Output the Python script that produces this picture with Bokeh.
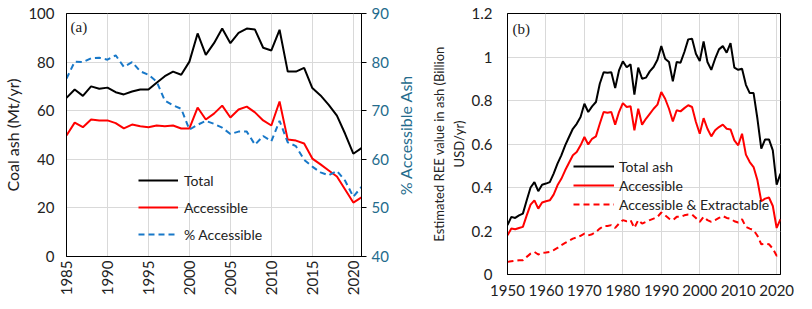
import numpy as np
from bokeh.plotting import figure
from bokeh.layouts import row
from bokeh.models import Range1d, LinearAxis, Legend, LegendItem, FixedTicker, Label
from bokeh.embed import file_html
from bokeh.resources import INLINE

# ---------------- Panel (a) data ----------------
years_a = list(range(1985, 2022))
total_a = [65.3, 68.7, 66.1, 70.0, 69.0, 69.5, 67.6, 66.7, 67.9, 68.7, 68.7, 71.5, 74.2, 76.1, 74.8,
           80.2, 91.8, 83.0, 87.8, 93.8, 87.8, 92.0, 93.8, 93.4, 85.9, 84.8, 93.3, 76.1, 76.1, 77.6,
           69.3, 66.3, 62.4, 58.0, 50.5, 42.3, 44.6]
access_a = [49.8, 55.1, 53.2, 56.4, 56.0, 56.0, 54.9, 52.7, 54.3, 53.6, 53.2, 53.9, 53.6, 53.9, 52.7,
            52.7, 61.3, 56.4, 58.8, 62.1, 57.2, 60.5, 61.7, 59.3, 56.0, 53.9, 63.8, 48.1, 47.7, 46.5,
            40.3, 37.9, 35.4, 32.9, 27.6, 22.2, 24.3]
pct_a = [76.6, 80.1, 80.0, 80.8, 80.9, 80.5, 81.4, 79.0, 80.0, 78.1, 77.4, 76.0, 72.1, 71.1, 70.4,
         66.1, 67.1, 67.9, 67.3, 66.5, 65.2, 65.7, 65.7, 63.0, 64.8, 63.7, 67.9, 63.5, 62.7, 59.9,
         58.5, 57.3, 56.7, 57.6, 55.6, 52.3, 54.3]
xticks_a = [1985, 1990, 1995, 2000, 2005, 2010, 2015, 2020]
yticks_a = [0, 20, 40, 60, 80, 100]
yticks_a2 = [40, 50, 60, 70, 80, 90]

# ---------------- Panel (b) data ----------------
years_b = list(range(1950, 2022))
total_b = [0.227, 0.265, 0.260, 0.272, 0.280, 0.341, 0.400, 0.425, 0.383, 0.413,
           0.418, 0.425, 0.464, 0.510, 0.548, 0.594, 0.632, 0.670, 0.693, 0.724,
           0.785, 0.747, 0.773, 0.793, 0.877, 0.930, 0.928, 0.930, 0.857, 0.938,
           0.980, 0.953, 0.966, 0.827, 0.951, 0.900, 0.905, 0.934, 0.954, 0.987,
           1.050, 0.992, 0.977, 0.888, 0.977, 0.974, 1.023, 1.081, 1.084, 1.015,
           0.981, 1.071, 0.977, 0.941, 0.992, 1.035, 1.050, 1.020, 1.064, 0.951,
           0.941, 0.946, 0.872, 0.834, 0.834, 0.716, 0.579, 0.621, 0.621, 0.571,
           0.413, 0.464]
access_b = [0.180, 0.211, 0.208, 0.214, 0.219, 0.272, 0.321, 0.341, 0.303, 0.331,
            0.337, 0.341, 0.367, 0.410, 0.440, 0.479, 0.514, 0.548, 0.563, 0.594,
            0.632, 0.598, 0.624, 0.635, 0.693, 0.747, 0.744, 0.747, 0.689, 0.747,
            0.788, 0.770, 0.774, 0.663, 0.762, 0.689, 0.716, 0.739, 0.762, 0.781,
            0.839, 0.808, 0.762, 0.704, 0.755, 0.750, 0.765, 0.778, 0.770, 0.701,
            0.647, 0.719, 0.670, 0.635, 0.663, 0.678, 0.689, 0.670, 0.667, 0.617,
            0.594, 0.647, 0.551, 0.517, 0.494, 0.433, 0.337, 0.349, 0.354, 0.315,
            0.214, 0.254]
extract_b = [0.058, 0.061, 0.063, 0.066, 0.066, 0.081, 0.096, 0.104, 0.092, 0.100,
             0.101, 0.104, 0.112, 0.122, 0.135, 0.145, 0.155, 0.165, 0.170, 0.178,
             0.188, 0.180, 0.185, 0.196, 0.211, 0.223, 0.223, 0.227, 0.214, 0.234,
             0.250, 0.245, 0.250, 0.214, 0.250, 0.234, 0.242, 0.250, 0.257, 0.265,
             0.285, 0.272, 0.257, 0.250, 0.265, 0.265, 0.272, 0.276, 0.276, 0.260,
             0.242, 0.265, 0.250, 0.242, 0.250, 0.260, 0.269, 0.260, 0.257, 0.245,
             0.239, 0.254, 0.219, 0.211, 0.204, 0.178, 0.139, 0.142, 0.139, 0.119,
             0.086, 0.096]
xticks_b = [1950, 1960, 1970, 1980, 1990, 2000, 2010, 2020]
yticks_b = [0, 0.2, 0.4, 0.6, 0.8, 1.0, 1.2]
ylabels_b = {0: "0", 0.2: "0.2", 0.4: "0.4", 0.6: "0.6", 0.8: "0.8", 1.0: "1", 1.2: "1.2"}

FONT = "Lato"
TEAL = "#246B8C"
BLUE = "#1878C8"
GRID = "#D9D9D9"


def style(p):
    p.outline_line_color = "black"
    p.outline_line_width = 1
    p.outline_line_alpha = 1
    for g in (p.xgrid[0], p.ygrid[0]):
        g.grid_line_color = GRID
        g.grid_line_width = 1
    for ax in p.axis:
        ax.axis_line_color = "black"
        ax.major_tick_line_color = None
        ax.minor_tick_line_color = None
        ax.major_tick_out = 0
        ax.major_tick_in = 0
        ax.minor_tick_out = 0
        ax.major_label_text_font = FONT
        ax.major_label_text_font_size = "15px"
        ax.major_label_text_color = "#222222"
        ax.axis_label_text_font = FONT
        ax.axis_label_text_font_style = "normal"
        ax.axis_label_text_color = "#222222"


# ---------------- Figure (a) ----------------
FH_A = 243
pa = figure(frame_width=295, frame_height=FH_A, output_backend="svg", toolbar_location=None,
            x_range=Range1d(1985, 2021), y_range=Range1d(0, 100),
            min_border_left=58, min_border_right=30, min_border_top=13, min_border_bottom=40)
pa.extra_y_ranges = {"pct": Range1d(40, 90)}
ax2 = LinearAxis(y_range_name="pct", ticker=FixedTicker(ticks=yticks_a2))
pa.add_layout(ax2, "right")
style(pa)
pa.xaxis.ticker = FixedTicker(ticks=xticks_a)
pa.yaxis[0].ticker = FixedTicker(ticks=yticks_a)
pa.xaxis.major_label_orientation = np.pi / 2
pa.xaxis.major_label_standoff = 4
pa.yaxis[0].axis_label = "Coal ash (Mt/yr)"
pa.yaxis[0].axis_label_text_font_size = "16px"
pa.yaxis[0].major_label_standoff = 12
pa.yaxis[0].axis_label_standoff = 3
ax2.major_tick_line_color = "black"
ax2.major_tick_out = 5
ax2.major_label_text_color = TEAL
ax2.major_label_text_font_size = "15px"
ax2.major_label_standoff = 5

ra1 = pa.line(years_a, total_a, line_color="black", line_width=2)
ra2 = pa.line(years_a, access_a, line_color="#FF0000", line_width=2)
ra3 = pa.line(years_a, pct_a, line_color=BLUE, line_width=2, line_dash="6 4", y_range_name="pct")

leg_a = Legend(items=[LegendItem(label="Total", renderers=[ra1]),
                      LegendItem(label="Accessible", renderers=[ra2]),
                      LegendItem(label="% Accessible", renderers=[ra3])],
               location=(72, 12), orientation="vertical",
               glyph_width=40, glyph_height=20, spacing=7, padding=0, margin=0,
               label_standoff=6, label_text_font=FONT, label_text_font_size="14px",
               label_text_color="#222222", border_line_alpha=0, background_fill_alpha=0)
pa.add_layout(leg_a, "center")
pa.add_layout(Label(x=4, y=222, x_units="screen", y_units="screen", text="(a)",
                    text_font="Liberation Serif", text_font_size="15px",
                    text_color="#222222"))

# narrow strip holding the right-hand axis title of panel (a), reading bottom-to-top
pt = figure(frame_width=37, frame_height=FH_A, output_backend="svg", toolbar_location=None,
            x_axis_type=None, y_axis_type=None, x_range=Range1d(0, 1), y_range=Range1d(0, 1),
            min_border_left=0, min_border_right=0, min_border_top=13, min_border_bottom=40)
pt.outline_line_color = None
pt.xgrid.visible = False
pt.ygrid.visible = False
pt.add_layout(Label(x=14, y=FH_A / 2, x_units="screen", y_units="screen",
                    text="% Accessible Ash", angle=np.pi / 2, text_align="center",
                    text_baseline="middle", text_font=FONT, text_font_size="16px",
                    text_color=TEAL))

# ---------------- Figure (b) ----------------
pb = figure(frame_width=273, frame_height=261, output_backend="svg", toolbar_location=None,
            x_range=Range1d(1950, 2021), y_range=Range1d(0, 1.2),
            min_border_left=79, min_border_right=24, min_border_top=13, min_border_bottom=22)
style(pb)
pb.xaxis.ticker = FixedTicker(ticks=xticks_b)
pb.yaxis.ticker = FixedTicker(ticks=yticks_b)
pb.yaxis.major_label_overrides = ylabels_b
pb.xaxis.major_label_standoff = 10
pb.yaxis.major_label_standoff = 15
pb.yaxis.axis_label = "Estimated REE value in ash (Billion\nUSD/yr)"
pb.yaxis.axis_label_text_font_size = "13px"
pb.yaxis.axis_label_standoff = 2

rb1 = pb.line(years_b, total_b, line_color="black", line_width=2)
rb2 = pb.line(years_b, access_b, line_color="#FF0000", line_width=2)
rb3 = pb.line(years_b, extract_b, line_color="#FF0000", line_width=2, line_dash="6 4")

leg_b = Legend(items=[LegendItem(label="Total ash", renderers=[rb1]),
                      LegendItem(label="Accessible", renderers=[rb2]),
                      LegendItem(label="Accessible & Extractable", renderers=[rb3])],
               location=(66, 61), orientation="vertical",
               glyph_width=41, glyph_height=18, spacing=1, padding=0, margin=0,
               label_standoff=5, label_text_font=FONT, label_text_font_size="14px",
               label_text_color="#222222", border_line_alpha=0, background_fill_alpha=0)
pb.add_layout(leg_b, "center")
pb.add_layout(Label(x=5, y=238, x_units="screen", y_units="screen", text="(b)",
                    text_font="Liberation Serif", text_font_size="15px",
                    text_color="#222222"))

layout = row(pa, pt, pb)
open("out.html", "w").write(file_html(layout, INLINE))
